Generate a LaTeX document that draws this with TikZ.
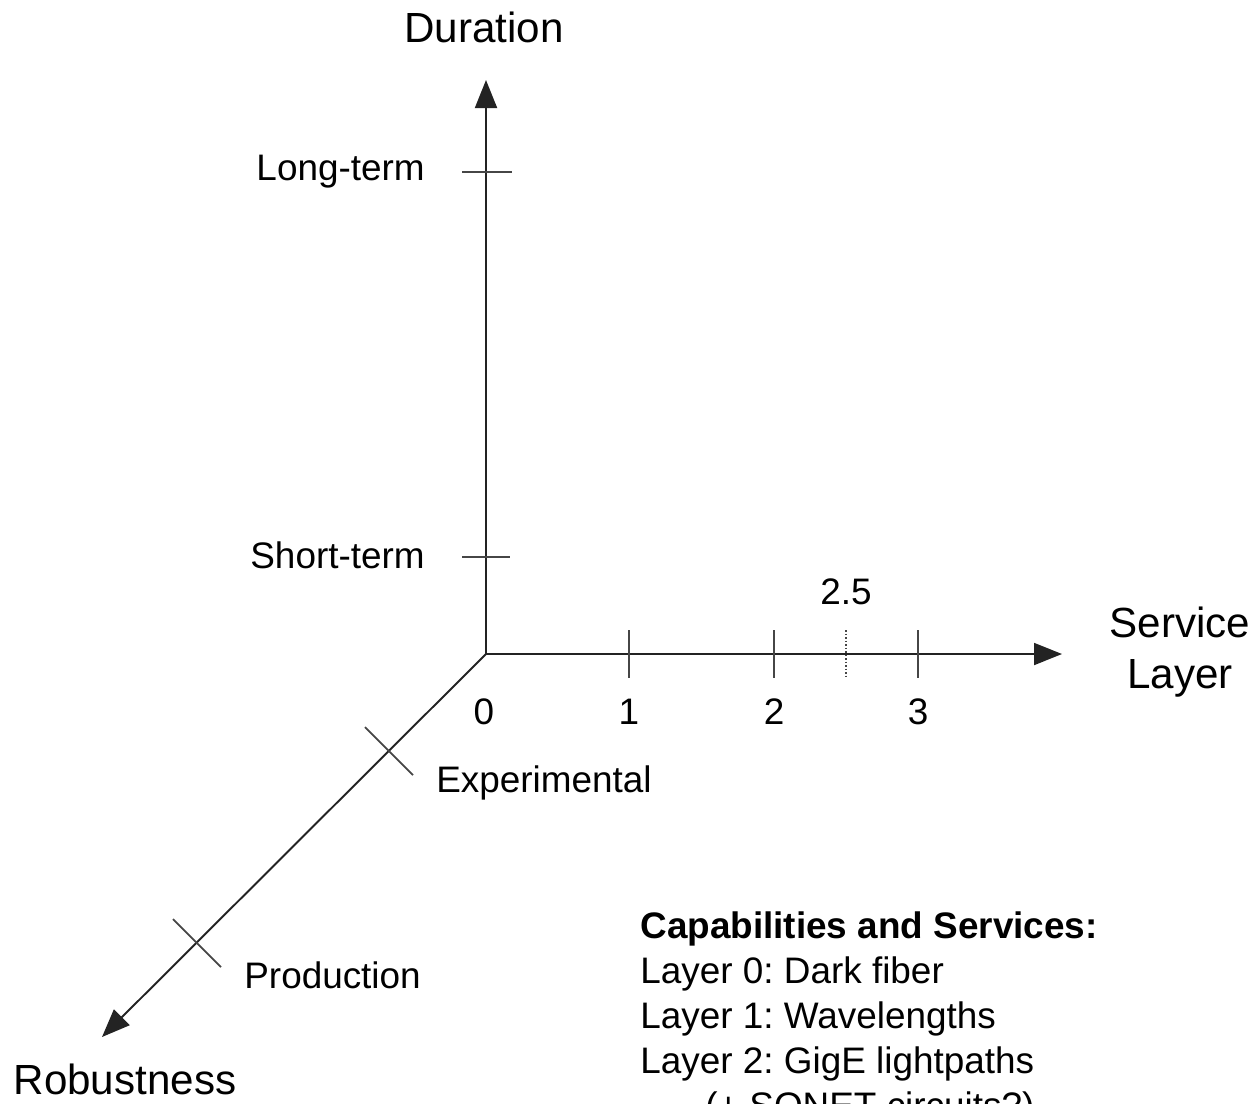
\documentclass[tikz,border=0pt]{standalone}
\usepackage{fontspec}
\setmainfont{Liberation Sans}
\usetikzlibrary{arrows.meta}
\definecolor{axisgray}{RGB}{35,35,35}
\definecolor{tickgray}{RGB}{70,70,70}
\frenchspacing

\begin{document}
\begin{tikzpicture}[x=0.02cm,y=-0.02cm,
    axis/.style={line width=1.1pt, draw=axisgray, -{Triangle[length=0.56cm,width=0.44cm]}},
    tickmark/.style={line width=1pt, draw=tickgray},
    lbl/.style={font=\fontsize{21}{25}\selectfont, inner sep=0pt},
    axlbl/.style={font=\fontsize{24}{29}\selectfont, inner sep=0pt}]
    \clip (0,0) rectangle (1257,1103);

    % Achsen
    \coordinate (o) at (486,654);
    \coordinate (dtip) at (486,80);
    \coordinate (stip) at (1062,654);
    \coordinate (rtip) at (102,1037);
    \draw[axis] (o) -- (dtip);
    \draw[axis] (o) -- (stip);
    \draw[axis] (o) -- (rtip);

    % Duration
    \node[axlbl] (dur) at (484,27) {Duration};
    \draw[tickmark] (462,172) -- (512,172);
    \draw[tickmark] (462,557) -- (510,557);
    \node[lbl, anchor=east] (longterm) at (425,172) {Long-term};
    \node[lbl, anchor=east] (shortterm) at (425,555) {Short-term};

    % Service Layer
    \node[axlbl, align=center] (svc) at (1180,652) {Service\\Layer};
    \node[lbl] (n0) at (484,712) {0};
    \foreach \x/\n in {629/1,774/2,918/3} {
        \draw[tickmark] (\x,630) -- (\x,678);
        \node[lbl] (n\n) at (\x,712) {\n};
    }
    \draw[tickmark, densely dotted] (846,630) -- (846,678);
    \node[lbl] (nhalf) at (846,592) {2.5};

    % Robustness
    \draw[tickmark] (365,727) -- (413,775);
    \draw[tickmark] (173,919) -- (221,967);
    \node[lbl, anchor=west] (exper) at (436,783) {Experimental};
    \node[lbl, anchor=west] (prod) at (244,975) {Production};
    \node[axlbl] (robust) at (125,1079) {Robustness};

    % Capabilities
    \node[lbl, anchor=north west, align=left, font=\fontsize{21}{25.6}\selectfont] (caps) at (640,911)
        {\textbf{Capabilities and Services:}\\
         Layer 0: Dark fiber\\
         Layer 1: Wavelengths\\
         Layer 2: GigE lightpaths\\
         \hspace*{1.3cm}(+ SONET circuits?)};
\end{tikzpicture}
\end{document}
